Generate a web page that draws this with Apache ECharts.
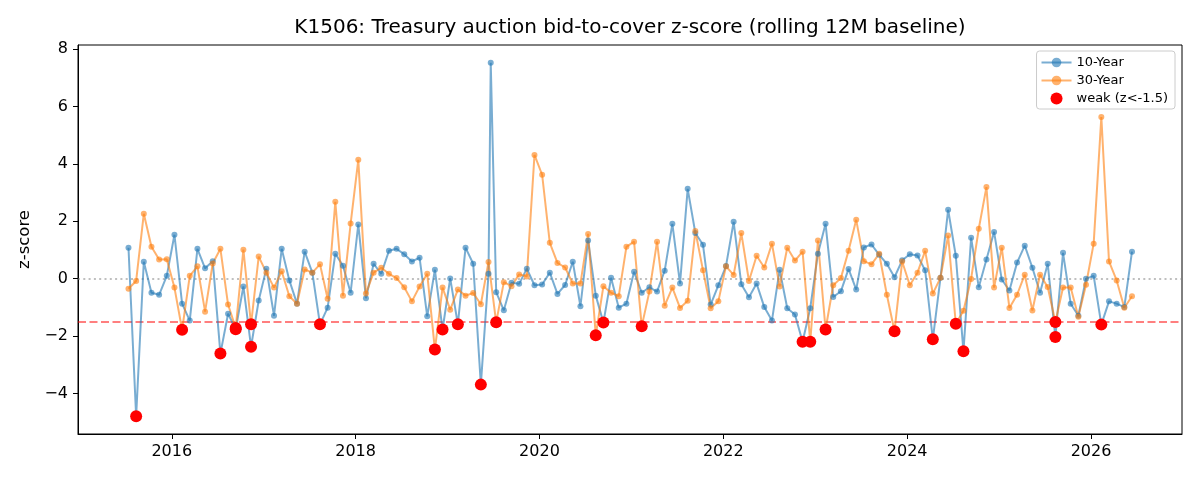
<!DOCTYPE html>
<html>
<head>
<meta charset="utf-8">
<title>K1506 bid-to-cover z-score</title>
<script src="https://cdn.jsdelivr.net/npm/echarts@6.0.0/dist/echarts.min.js"></script>
<style>
  html, body { margin: 0; padding: 0; background: #fff; }
  #main { width: 1200px; height: 480px; }
</style>
</head>
<body>
<div id="main"></div>
<script>
// monthly auctions, July 2015 .. June 2026
const firstYear = 2015;
const firstMonth = 7;
const monthCount = 132;

// 10-Year z-scores, one per month
const tenYear = [
  1.08, -4.79, 0.59, -0.49, -0.56, 0.10, 1.53, -0.87, -1.46, 1.04, 0.36, 0.61,
  -2.61, -1.22, -1.76, -0.27, -2.37, -0.76, 0.35, -1.29, 1.04, -0.06, -0.87, 0.94,
  0.21, -1.59, -1.01, 0.87, 0.45, -0.49, 1.89, -0.68, 0.52, 0.17, 0.97, 1.04,
  0.85, 0.60, 0.73, -1.31, 0.31, -1.77, 0.01, -1.59, 1.08, 0.52, -3.69, 0.17,
  -0.47, -1.10, -0.14, -0.18, 0.35, -0.23, -0.20, 0.21, -0.53, -0.22, 0.59, -0.96,
  1.33, -0.59, -1.53, 0.03, -1.01, -0.87, 0.24, -0.49, -0.30, -0.45, 0.28, 1.91,
  -0.17, 3.13, 1.59, 1.18, -0.90, -0.23, 0.44, 1.98, -0.19, -0.65, -0.17, -0.99,
  -1.46, 0.31, -1.03, -1.25, -2.20, -1.03, 0.87, 1.91, -0.64, -0.44, 0.34, -0.38,
  1.09, 1.19, 0.83, 0.52, 0.05, 0.64, 0.85, 0.81, 0.29, -2.11, 0.03, 2.40,
  0.80, -2.53, 1.43, -0.30, 0.67, 1.63, -0.03, -0.41, 0.56, 1.15, 0.38, -0.49,
  0.52, -2.03, 0.90, -0.87, -1.29, 0.00, 0.10, -1.60, -0.79, -0.87, -0.99, 0.94
];
// one extra 10-Year auction late June 2019
const tenYearExtraX = [2019.47];
const tenYearExtraZ = [7.52];

// 30-Year z-scores, one per month
const thirtyYear = [
  -0.35, -0.08, 2.26, 1.11, 0.67, 0.68, -0.31, -1.78, 0.10, 0.43, -1.15, 0.53,
  1.04, -0.90, -1.72, 1.01, -1.59, 0.77, 0.21, -0.31, 0.26, -0.61, -0.87, 0.32,
  0.21, 0.50, -0.70, 2.68, -0.59, 1.92, 4.14, -0.52, 0.21, 0.38, 0.17, 0.02,
  -0.30, -0.79, -0.27, 0.17, -2.47, -0.31, -1.08, -0.38, -0.59, -0.50, -0.89, 0.58,
  -1.52, -0.12, -0.26, 0.15, 0.08, 4.31, 3.62, 1.25, 0.55, 0.39, -0.17, -0.17,
  1.56, -1.97, -0.26, -0.49, -0.61, 1.11, 1.29, -1.66, -0.45, 1.29, -0.94, -0.31,
  -1.02, -0.77, 1.66, 0.29, -1.03, -0.79, 0.43, 0.13, 1.59, -0.08, 0.80, 0.39,
  1.22, -0.27, 1.08, 0.63, 0.94, -2.20, 1.33, -1.77, -0.23, 0.02, 0.97, 2.05,
  0.61, 0.50, 0.87, -0.56, -1.83, 0.60, -0.23, 0.21, 0.97, -0.52, 0.03, 1.50,
  -1.57, -1.12, -0.01, 1.74, 3.19, -0.31, 1.08, -1.02, -0.56, 0.14, -1.11, 0.14,
  -0.29, -1.51, -0.31, -0.31, -1.33, -0.21, 1.22, 5.63, 0.60, -0.06, -1.01, -0.61
];

const weakCut = -1.5;
const yearTicks = [2016, 2018, 2020, 2022, 2024, 2026];
const zTicks = [-4, -2, 0, 2, 4, 6, 8];

// auction date as decimal year (around the 11th of the month)
const months = [];
for (let i = 0; i < monthCount; i++) {
  months.push(firstYear + (firstMonth - 1 + i + 0.35) / 12);
}

let tenData = tenYear.map((z, i) => [months[i], z]);
tenYearExtraX.forEach((x, k) => tenData.push([x, tenYearExtraZ[k]]));
tenData.sort((a, b) => a[0] - b[0]);
const thirtyData = thirtyYear.map((z, i) => [months[i], z]);
const weakData = tenData.concat(thirtyData).filter(d => d[1] < weakCut);

const font = "DejaVu Sans";
const minus = v => (v < 0 ? "\u2212" + Math.abs(v) : String(v));

let chart = echarts.init(document.getElementById("main"), null, { renderer: "canvas" });

let option = {
  animation: false,
  backgroundColor: "#fff",
  textStyle: { fontFamily: font },
  title: {
    text: "K1506: Treasury auction bid-to-cover z-score (rolling 12M baseline)",
    left: 630,
    top: 18,
    padding: 0,
    textAlign: "center",
    textStyle: { fontFamily: font, fontSize: 20, fontWeight: "normal", color: "#000" }
  },
  grid: {
    left: 78, right: 18, top: 45, bottom: 46,
    show: true, borderColor: "#000", borderWidth: 1, backgroundColor: "transparent"
  },
  legend: {
    orient: "vertical",
    right: 25,
    top: 51,
    align: "left",
    itemWidth: 30,
    itemHeight: 12,
    itemGap: 5,
    padding: [5, 7, 4, 4],
    borderColor: "#ccc",
    borderWidth: 1,
    borderRadius: 3,
    backgroundColor: "rgba(255,255,255,0.8)",
    textStyle: { fontFamily: font, fontSize: 13, color: "#000" },
    data: ["10-Year", "30-Year", "weak (z<-1.5)"]
  },
  xAxis: {
    type: "value",
    min: 2014.98,
    max: 2026.99,
    splitLine: { show: false },
    axisLine: { onZero: false, lineStyle: { color: "#000", width: 1 } },
    axisTick: { customValues: yearTicks, length: 5, lineStyle: { color: "#000" } },
    axisLabel: {
      customValues: yearTicks,
      margin: 10,
      fontFamily: font,
      fontSize: 16,
      color: "#000",
      formatter: v => String(Math.round(v))
    }
  },
  yAxis: {
    type: "value",
    min: -5.41,
    max: 8.14,
    name: "z-score",
    nameLocation: "middle",
    nameGap: 44,
    nameTextStyle: { fontFamily: font, fontSize: 16.5, color: "#000" },
    splitLine: { show: false },
    axisLine: { show: true, onZero: false, lineStyle: { color: "#000", width: 1 } },
    axisTick: { show: true, customValues: zTicks, length: 5, lineStyle: { color: "#000" } },
    axisLabel: {
      customValues: zTicks,
      margin: 10,
      fontFamily: font,
      fontSize: 16,
      color: "#000",
      formatter: minus
    }
  },
  series: [
    {
      name: "10-Year",
      type: "line",
      data: tenData,
      symbol: "circle",
      symbolSize: 6,
      showAllSymbol: true,
      z: 3,
      itemStyle: { color: "#1f77b4", opacity: 0.6 },
      lineStyle: { color: "#1f77b4", width: 2, opacity: 0.6 },
      markLine: {
        silent: true,
        symbol: ["none", "none"],
        label: { show: false },
        z: 1,
        data: [
          { yAxis: 0, lineStyle: { color: "#808080", opacity: 0.5, type: [2, 3.3], width: 2 } },
          { yAxis: weakCut, lineStyle: { color: "#ff0000", opacity: 0.5, type: [8, 3.5], width: 2 } }
        ]
      }
    },
    {
      name: "30-Year",
      type: "line",
      data: thirtyData,
      symbol: "circle",
      symbolSize: 6,
      showAllSymbol: true,
      z: 3,
      itemStyle: { color: "#ff7f0e", opacity: 0.6 },
      lineStyle: { color: "#ff7f0e", width: 2, opacity: 0.6 }
    },
    {
      name: "weak (z<-1.5)",
      type: "scatter",
      data: weakData,
      symbol: "circle",
      symbolSize: 12,
      z: 5,
      itemStyle: { color: "#ff0000", opacity: 1 }
    }
  ]
};

option && chart.setOption(option);
</script>
</body>
</html>
